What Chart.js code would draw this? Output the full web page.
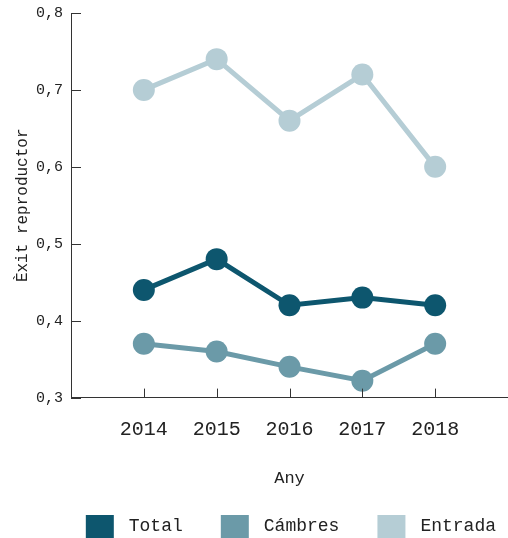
<!DOCTYPE html>
<html>
<head>
<meta charset="utf-8">
<script src="https://cdn.jsdelivr.net/npm/chart.js@4"></script>
<style>
  html, body { margin: 0; padding: 0; background: #ffffff; }
  #wrap { width: 508px; height: 538px; position: relative; }
</style>
</head>
<body>
<div id="wrap"><canvas id="c"></canvas></div>
<script>
const years = [2014, 2015, 2016, 2017, 2018];
const seriesNames = ['Total', 'Cámbres', 'Entrada'];
const totalValues = [0.44, 0.48, 0.42, 0.43, 0.42];
const cambresValues = [0.37, 0.36, 0.34, 0.322, 0.37];
const entradaValues = [0.70, 0.74, 0.66, 0.72, 0.60];
const yTicks = [0.3, 0.4, 0.5, 0.6, 0.7, 0.8];
const yTickLabels = ['0,3', '0,4', '0,5', '0,6', '0,7', '0,8'];
const xTitle = 'Any';
const yTitle = 'Èxit reproductor';

const colors = ['#0d566e', '#6b9aa8', '#b5cdd5'];
const FONT = "'Liberation Mono', monospace";
const TEXT = '#222222';

function toPoints(vals) { return years.map((y, i) => ({ x: y, y: vals[i] })); }

function makeBox(color) {
  const c = document.createElement('canvas');
  c.width = 60; c.height = 23;
  const g = c.getContext('2d');
  g.fillStyle = color;
  g.fillRect(26, 0, 28, 23);
  return c;
}

const innerTicks = {
  id: 'innerTicks',
  afterDatasetsDraw(chart) {
    const { ctx, scales } = chart;
    const xs = scales.x, ys = scales.y;
    ctx.save();
    ctx.strokeStyle = '#333333';
    ctx.lineWidth = 1;
    ctx.beginPath();
    years.forEach(v => {
      const px = Math.round(xs.getPixelForValue(v)) + 0.5;
      ctx.moveTo(px, ys.bottom);
      ctx.lineTo(px, ys.bottom - 9);
    });
    yTicks.forEach(v => {
      const py = Math.round(ys.getPixelForValue(v)) + 0.5;
      ctx.moveTo(xs.left, py);
      ctx.lineTo(xs.left + 10, py);
    });
    ctx.stroke();
    ctx.restore();
  }
};

const mk = (vals, i) => ({
  label: seriesNames[i],
  data: toPoints(vals),
  borderColor: colors[i],
  backgroundColor: colors[i],
  pointBackgroundColor: colors[i],
  pointBorderColor: colors[i],
  borderWidth: 5,
  pointRadius: 11,
  pointHoverRadius: 11,
  pointBorderWidth: 0,
  tension: 0,
  fill: false
});

new Chart(document.getElementById('c'), {
  type: 'line',
  data: {
    datasets: [mk(totalValues, 0), mk(cambresValues, 1), mk(entradaValues, 2)]
  },
  options: {
    responsive: true,
    maintainAspectRatio: false,
    animation: false,
    layout: { autoPadding: false, padding: { top: 13, right: 0, left: 0, bottom: -7 } },
    plugins: {
      tooltip: { enabled: false },
      legend: {
        position: 'bottom',
        align: 'end',
        labels: {
          usePointStyle: true,
          pointStyleWidth: 60,
          padding: 12,
          color: TEXT,
          font: { family: FONT, size: 18 },
          generateLabels(chart) {
            const items = Chart.defaults.plugins.legend.labels.generateLabels(chart);
            items.forEach((it, i) => { it.pointStyle = makeBox(colors[i]); });
            return items;
          }
        }
      }
    },
    scales: {
      x: {
        type: 'linear',
        min: years[0] - 1,
        max: years[years.length - 1] + 1,
        grid: { display: false, drawTicks: false },
        border: { display: true, color: '#333333', width: 1 },
        afterFit(scale) { scale.paddingRight = 0; scale.paddingLeft = 0; },
        ticks: {
          stepSize: 1,
          padding: 20,
          color: TEXT,
          font: { family: FONT, size: 20 },
          callback: (v) => years.includes(v) ? String(v) : ''
        },
        title: {
          display: true,
          text: xTitle,
          color: TEXT,
          font: { family: FONT, size: 17 },
          padding: { top: 7, bottom: 16 }
        }
      },
      y: {
        min: yTicks[0],
        max: yTicks[yTicks.length - 1],
        grid: { display: false, drawTicks: false },
        border: { display: true, color: '#333333', width: 1 },
        afterFit(scale) { scale.width = 71; scale.paddingTop = 0; scale.paddingBottom = 0; },
        afterBuildTicks(scale) { scale.ticks = yTicks.map(v => ({ value: v })); },
        ticks: {
          padding: 8,
          color: TEXT,
          font: { family: FONT, size: 15 },
          callback: (v) => yTickLabels[yTicks.findIndex(t => Math.abs(t - v) < 1e-9)]
        },
        title: {
          display: true,
          text: yTitle,
          color: TEXT,
          font: { family: FONT, size: 16 },
          padding: { top: 13, bottom: 0 }
        }
      }
    }
  },
  plugins: [innerTicks]
});
</script>
</body>
</html>
